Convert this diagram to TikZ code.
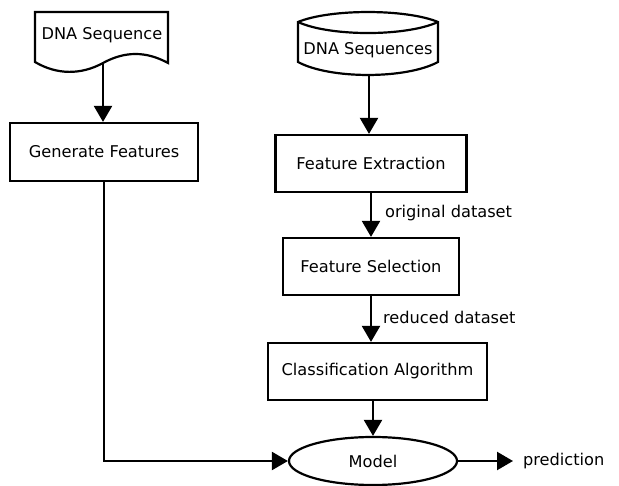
\documentclass[tikz,border=0pt]{standalone}
\usepackage{fontspec}
\setmainfont{DejaVu Sans}
\usetikzlibrary{arrows.meta,shapes.geometric}
\begin{document}
\begin{tikzpicture}[x=1pt,y=-1pt,line width=2.2pt,
  font=\fontsize{16.2}{19}\selectfont,
  proc/.style={draw,rectangle,inner sep=0pt},
  term/.style={draw,ellipse,inner sep=0pt,minimum width=168pt,minimum height=48pt},
  txt/.style={inner sep=0pt},
  lbl/.style={anchor=west,inner sep=0pt,xshift=13pt},
  arr/.style={-{Triangle[length=16pt,width=18pt]}}]
\useasboundingbox (0,0) rectangle (619,486);

% single document: DNA Sequence
\draw (35,62) -- (35,12) -- (168,12) -- (168,63)
  .. controls (146,51) and (125,51) .. (103,63)
  .. controls (81,75) and (57,75) .. (35,62) -- cycle;
\node[txt] (doc) at (102,35) {DNA Sequence};
\coordinate (docb) at (103,63);

% stored data: DNA Sequences
\draw (298,22) .. controls (330,8.7) and (406,8.7) .. (438,22)
  -- (438,62) .. controls (406,79.3) and (330,79.3) .. (298,62) -- cycle;
\draw (298,22) .. controls (330,36.7) and (406,36.7) .. (438,22);
\node[txt] (db) at (368,50) {DNA Sequences};
\coordinate (dbb) at (369,75);

% process boxes
\node[proc,minimum width=188pt,minimum height=58pt] (gf) at (104,152) {Generate Features};
\node[proc,minimum width=191pt,minimum height=57pt] (fe) at (371,163.5) {Feature Extraction};
\node[proc,minimum width=176pt,minimum height=57pt] (fs) at (371,266.5) {Feature Selection};
\node[proc,minimum width=219pt,minimum height=57pt] (ca) at (377.5,371.5) {Classification Algorithm};
\node[term] (model) at (373,461) {Model};
\node[anchor=west,inner xsep=9pt,inner ysep=0pt] (pred) at (513,461) {prediction};

% connectors
\draw[arr] (docb) -- (docb |- gf.north);
\draw[arr] (dbb) -- (dbb |- fe.north);
\draw[arr] (fe.south) -- (fe.south |- fs.north) node[lbl,pos=0.45] {original dataset};
\draw[arr] (fs.south) -- (fs.south |- ca.north) node[lbl,pos=0.47,xshift=-2pt] {reduced dataset};
\draw[arr] (model.north |- ca.south) -- (model.north);
\draw[arr] (gf.south) |- (model.west);
\draw[arr] (model.east) -- (pred.west);
\end{tikzpicture}
\end{document}
